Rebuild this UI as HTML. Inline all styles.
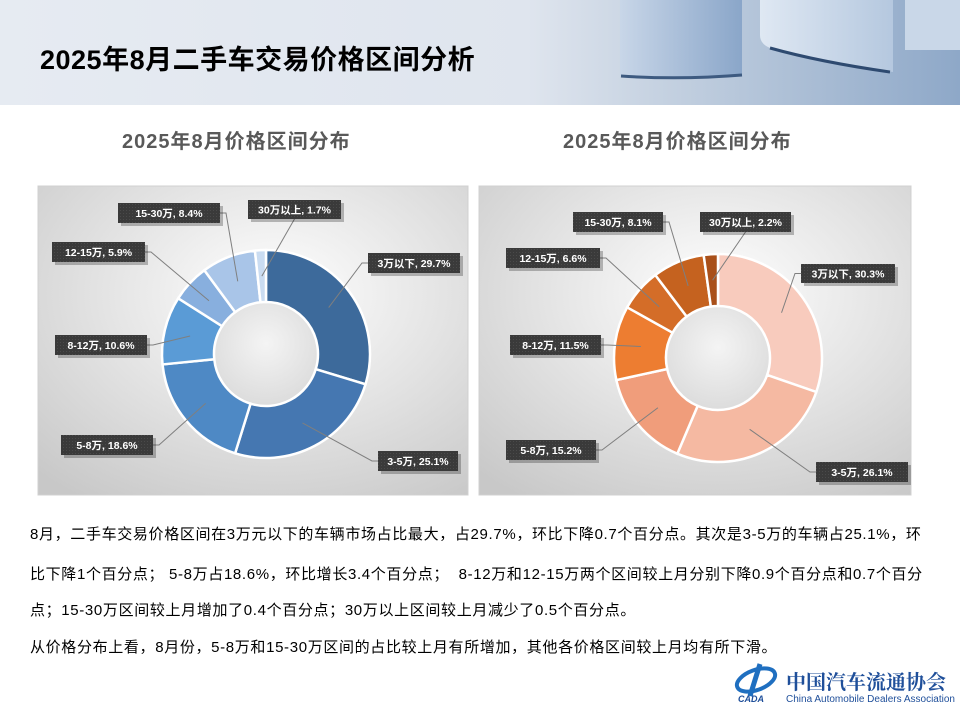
<!DOCTYPE html>
<html><head><meta charset="utf-8">
<style>
body{margin:0;width:960px;height:720px;overflow:hidden;background:#fff;font-family:"Liberation Sans","Noto Sans CJK SC",sans-serif;position:relative}
#hdr{position:absolute;left:0;top:0;width:960px;height:105px;background:linear-gradient(90deg,#e6ebf2 0%,#dfe5ee 55%,#c3d0e0 70%,#8ea8c8 100%)}
#title{position:absolute;left:40px;top:38px;font-size:27px;font-weight:bold;color:#000;letter-spacing:0.5px;white-space:nowrap}
.ct{position:absolute;top:125px;font-size:20px;font-weight:bold;color:#595959;letter-spacing:1px;white-space:nowrap}
.txt{position:absolute;left:30px;font-size:15px;letter-spacing:0.65px;color:#000;white-space:nowrap}
</style></head><body>
<div id="hdr">
<svg width="960" height="105" style="position:absolute;left:0;top:0">
<defs><linearGradient id="cb" x1="0" x2="1"><stop offset="0" stop-color="#c8d6e8"/><stop offset="1" stop-color="#8aa6c9"/></linearGradient>
<linearGradient id="cb2" x1="0" x2="1"><stop offset="0" stop-color="#dfe8f3"/><stop offset="1" stop-color="#b5c8df"/></linearGradient></defs>
<path d="M620 0 H742 V75 Q680 80 620 76 Z" fill="url(#cb)"/>
<path d="M621 76 Q680 80 742 75" stroke="#3d5a80" stroke-width="3" fill="none"/>
<path d="M760 0 H893 V72 L875 70 Q820 62 770 48 Q760 44 760 35 Z" fill="url(#cb2)"/>
<path d="M770 48 Q820 62 890 72" stroke="#2e4a70" stroke-width="3" fill="none"/>
<rect x="905" y="0" width="55" height="50" fill="#c9d7e8"/>
</svg>
<div id="title">2025年8月二手车交易价格区间分析</div>
</div>
<div class="ct" style="left:122px">2025年8月价格区间分布</div>
<div class="ct" style="left:563px">2025年8月价格区间分布</div>
<svg id="ch" width="960" height="720" style="position:absolute;left:0;top:0">
<defs>
<radialGradient id="bg" cx="0.55" cy="0.35" r="0.8"><stop offset="0" stop-color="#ffffff"/><stop offset="1" stop-color="#c8c8c8"/></radialGradient>
<radialGradient id="hole" cx="0.5" cy="0.4" r="0.6"><stop offset="0" stop-color="#f4f4f4"/><stop offset="1" stop-color="#dcdcdc"/></radialGradient>
<pattern id="dot" width="3" height="3" patternUnits="userSpaceOnUse"><rect width="3" height="3" fill="#3a3a3a"/><rect width="1" height="1" fill="#4a4a4a"/></pattern>
</defs>
<rect x="38" y="186" width="430" height="309" fill="url(#bg)" stroke="#d0d0d0"/>
<rect x="479" y="186" width="432" height="309" fill="url(#bg)" stroke="#d0d0d0"/>
<g id="g"></g>
</svg>
<div class="txt" style="top:523px">8月，二手车交易价格区间在3万元以下的车辆市场占比最大，占29.7%，环比下降0.7个百分点。其次是3-5万的车辆占25.1%，环</div>
<div class="txt" style="top:563px">比下降1个百分点；&nbsp;5-8万占18.6%，环比增长3.4个百分点；&nbsp;&nbsp;8-12万和12-15万两个区间较上月分别下降0.9个百分点和0.7个百分</div>
<div class="txt" style="top:599px">点；15-30万区间较上月增加了0.4个百分点；30万以上区间较上月减少了0.5个百分点。</div>
<div class="txt" style="top:636px">从价格分布上看，8月份，5-8万和15-30万区间的占比较上月有所增加，其他各价格区间较上月均有所下滑。</div>
<div style="position:absolute;left:732px;top:662px;width:48px;height:40px">
<svg width="50" height="42"><ellipse cx="24" cy="18" rx="20" ry="10" fill="none" stroke="#1f6fc0" stroke-width="4" transform="rotate(-20 24 18)"/><path d="M28 2 L18 34" stroke="#1f6fc0" stroke-width="5"/><text x="6" y="40" font-size="9" font-weight="bold" font-style="italic" fill="#1f4f9a" font-family="Liberation Sans">CADA</text></svg>
</div>
<div style="position:absolute;left:786px;top:666px;font-size:20px;font-weight:bold;color:#1f4f9a;font-family:'Liberation Serif','Noto Serif CJK SC',serif;white-space:nowrap">中国汽车流通协会</div>
<div style="position:absolute;left:786px;top:694px;font-size:10px;color:#1f4f9a;white-space:nowrap">China Automobile Dealers Association</div>
<script>
var NS="http://www.w3.org/2000/svg",G=document.getElementById('g');
function el(t,a,p){var e=document.createElementNS(NS,t);for(var k in a)e.setAttribute(k,a[k]);(p||G).appendChild(e);return e}
function donut(cx,cy,R,r,data,cols,labels){
 el('circle',{cx:cx,cy:cy,r:r,fill:'url(#hole)'});
 var a=0;
 data.forEach(function(d,i){
  var a1=a+d/100*2*Math.PI;
  function P(rr,an){return [cx+rr*Math.sin(an),cy-rr*Math.cos(an)]}
  var p1=P(R,a),p2=P(R,a1),p3=P(r,a1),p4=P(r,a),lg=(a1-a)>Math.PI?1:0;
  el('path',{d:'M'+p1+'A'+R+' '+R+' 0 '+lg+' 1 '+p2+'L'+p3+'A'+r+' '+r+' 0 '+lg+' 0 '+p4+'Z',fill:cols[i],stroke:'#fff','stroke-width':2.5});
  var mid=P((R+r)/2,(a+a1)/2),L=labels[i];
  var bx=L[0],by=L[1],bw=L[2],bh=L[3];
  var ax=mid[0]<bx?bx:(mid[0]>bx+bw?bx+bw:bx+bw/2), ay=by+bh/2;
  if(mid[0]>=bx&&mid[0]<=bx+bw){ay=mid[1]<by?by:by+bh;}
  el('polyline',{points:mid+' '+(ax+(ax==bx?-6:ax==bx+bw?6:0))+','+ay+' '+ax+','+ay,fill:'none',stroke:'#7f7f7f','stroke-width':1});
  el('rect',{x:bx+3,y:by+3,width:bw,height:bh,fill:'#000',opacity:0.25});
  el('rect',{x:bx,y:by,width:bw,height:bh,fill:'url(#dot)'});
  var t=el('text',{x:bx+bw/2,y:by+bh/2+4,'text-anchor':'middle','font-size':10.5,'font-weight':'bold',fill:'#fff','font-family':'"Liberation Sans","Noto Sans CJK SC",sans-serif'});
  t.textContent=L[4];
  a=a1;
 });
}
donut(266,354,104,52,[29.7,25.1,18.6,10.6,5.9,8.4,1.7],
 ['#3d6a9b','#4577b1','#4e89c5','#5a9bd6','#88afde','#a9c5e8','#cadcf1'],
 [[368,253,92,20,'3万以下, 29.7%'],[378,451,80,20,'3-5万, 25.1%'],[61,435,92,20,'5-8万, 18.6%'],[55,335,92,20,'8-12万, 10.6%'],[52,242,93,20,'12-15万, 5.9%'],[118,203,102,20,'15-30万, 8.4%'],[248,200,93,19,'30万以上, 1.7%']]);
donut(718,358,104,52,[30.3,26.1,15.2,11.5,6.6,8.1,2.2],
 ['#f8cbbd','#f5b9a2','#f09d7b','#ed7d31','#d46d28','#c5621f','#a9501a'],
 [[801,264,94,19,'3万以下, 30.3%'],[816,462,92,20,'3-5万, 26.1%'],[506,440,90,20,'5-8万, 15.2%'],[510,335,91,20,'8-12万, 11.5%'],[506,248,94,20,'12-15万, 6.6%'],[573,212,90,20,'15-30万, 8.1%'],[700,212,91,20,'30万以上, 2.2%']]);
</script>
</body></html>
